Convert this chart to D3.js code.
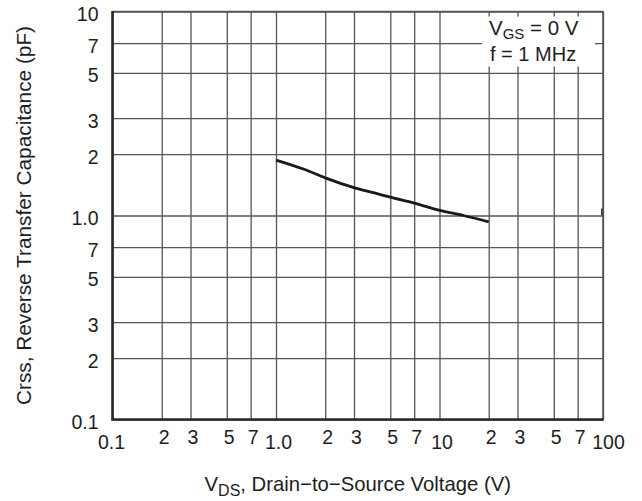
<!DOCTYPE html>
<html>
<head>
<meta charset="utf-8">
<script src="https://cdn.jsdelivr.net/npm/d3@7/dist/d3.min.js"></script>
<style>
  html, body { margin: 0; padding: 0; background: #fff; }
  svg { display: block; }
  text { font-family: "Liberation Sans", Arial, Helvetica, sans-serif; fill: #1e1e1e; }
</style>
</head>
<body>
<svg id="chart" width="642" height="501"></svg>
<script>
// ---- data ----
const vdsValues  = [1.0, 1.5, 2, 3, 4, 5, 7, 10, 14, 20];
const crssValues = [1.87, 1.68, 1.53, 1.37, 1.29, 1.23, 1.15, 1.06, 1.0, 0.93];

const xTickValues = [0.1, 0.2, 0.3, 0.5, 0.7, 1, 2, 3, 5, 7, 10, 20, 30, 50, 70, 100];
const xTickLabels = ["0.1", "2", "3", "5", "7", "1.0", "2", "3", "5", "7", "10", "2", "3", "5", "7", "100"];
const yTickValues = [10, 7, 5, 3, 2, 1, 0.7, 0.5, 0.3, 0.2, 0.1];
const yTickLabels = ["10", "7", "5", "3", "2", "1.0", "7", "5", "3", "2", "0.1"];
const decadeValues = [0.1, 1, 10, 100];

// ---- layout ----
const svg = d3.select("#chart");
const pL = 112.5, pR = 603, pT = 11.5, pB = 419.5;

const x = d3.scaleLog().domain([0.1, 100]).range([pL, pR]);
const y = d3.scaleLog().domain([0.1, 10]).range([pB, pT]);

// grid (vertical)
svg.append("g")
  .attr("transform", `translate(0,${pB})`)
  .call(d3.axisBottom(x).tickValues(xTickValues).tickSize(-(pB - pT)).tickFormat(""))
  .call(g => g.select(".domain").remove())
  .call(g => g.selectAll(".tick line").attr("stroke", "#555").attr("stroke-width", 1.3));

// grid (horizontal)
svg.append("g")
  .attr("transform", `translate(${pL},0)`)
  .call(d3.axisLeft(y).tickValues(yTickValues).tickSize(-(pR - pL)).tickFormat(""))
  .call(g => g.select(".domain").remove())
  .call(g => g.selectAll(".tick line").attr("stroke", "#555").attr("stroke-width", 1.3));

// legend box background (covers grid)
svg.append("rect")
  .attr("x", 482).attr("y", 16.5).attr("width", 113).attr("height", 50)
  .attr("fill", "#fff");

// top and right border
svg.append("line").attr("x1", pL).attr("x2", pR).attr("y1", pT).attr("y2", pT)
  .attr("stroke", "#555").attr("stroke-width", 1.6);
svg.append("line").attr("x1", pR).attr("x2", pR).attr("y1", pT).attr("y2", pB)
  .attr("stroke", "#555").attr("stroke-width", 1.6);
// small stub on right border at the 1.0 line
svg.append("line").attr("x1", pR - 1.2).attr("x2", pR - 1.2).attr("y1", y(1) - 7).attr("y2", y(1))
  .attr("stroke", "#2a2a2a").attr("stroke-width", 1.4);

// left and bottom axis lines (thick)
svg.append("line").attr("x1", pL).attr("x2", pL).attr("y1", pT - 0.5).attr("y2", pB + 1)
  .attr("stroke", "#2a2a2a").attr("stroke-width", 2.6);
svg.append("line").attr("x1", pL - 1).attr("x2", pR + 0.8).attr("y1", pB).attr("y2", pB)
  .attr("stroke", "#2a2a2a").attr("stroke-width", 2.6);

// curve
const line = d3.line()
  .x((d, i) => x(vdsValues[i]))
  .y(d => y(d))
  .curve(d3.curveMonotoneX);
svg.append("path")
  .datum(crssValues)
  .attr("d", line)
  .attr("fill", "none")
  .attr("stroke", "#1a1a1a")
  .attr("stroke-width", 2.8)
  .attr("stroke-linecap", "butt");

// y tick labels
svg.append("g")
  .attr("transform", `translate(${pL - 14},0)`)
  .call(d3.axisLeft(y).tickValues(yTickValues).tickSize(0).tickPadding(0)
    .tickFormat((d, i) => yTickLabels[i]))
  .call(g => g.select(".domain").remove())
  .call(g => g.selectAll(".tick text")
    .attr("x", 0).attr("dy", "0.36em").attr("y", 2)
    .attr("text-anchor", "end")
    .style("font-size", "19.5px")
    .style("font-family", '"Liberation Sans", Arial, sans-serif')
    .attr("fill", "#1e1e1e"));

// x tick labels
svg.append("g")
  .attr("transform", `translate(0,${pB})`)
  .call(d3.axisBottom(x).tickValues(xTickValues).tickSize(0).tickPadding(0)
    .tickFormat((d, i) => xTickLabels[i]))
  .call(g => g.select(".domain").remove())
  .call(g => g.selectAll(".tick text")
    .attr("dy", 0)
    .attr("y", d => decadeValues.includes(d) ? 29 : 24)
    .attr("x", d => d === 100 ? 5 : (d === 0.1 ? -1.5 : 2))
    .style("font-size", "19.5px")
    .style("font-family", '"Liberation Sans", Arial, sans-serif')
    .attr("fill", "#1e1e1e"));

// axis titles
const xt = svg.append("text")
  .attr("x", (pL + pR) / 2).attr("y", 491)
  .attr("text-anchor", "middle")
  .style("font-size", "20.3px");
xt.append("tspan").text("V");
xt.append("tspan").attr("dy", 5).style("font-size", "16px").text("DS");
xt.append("tspan").attr("dy", -5).text(", Drain\u2212to\u2212Source Voltage (V)");

svg.append("text")
  .attr("transform", `translate(31,${(pT + pB) / 2}) rotate(-90)`)
  .attr("text-anchor", "middle")
  .style("font-size", "20.8px")
  .text("Crss, Reverse Transfer Capacitance (pF)");

// legend text
const lg = svg.append("text").attr("x", 489).attr("y", 35).style("font-size", "20.5px");
lg.append("tspan").text("V");
lg.append("tspan").attr("dy", 3.5).style("font-size", "15px").text("GS");
lg.append("tspan").attr("dy", -3.5).text(" = 0 V");
svg.append("text").attr("x", 490).attr("y", 60.5).style("font-size", "20px").text("f = 1 MHz");
</script>
</body>
</html>
